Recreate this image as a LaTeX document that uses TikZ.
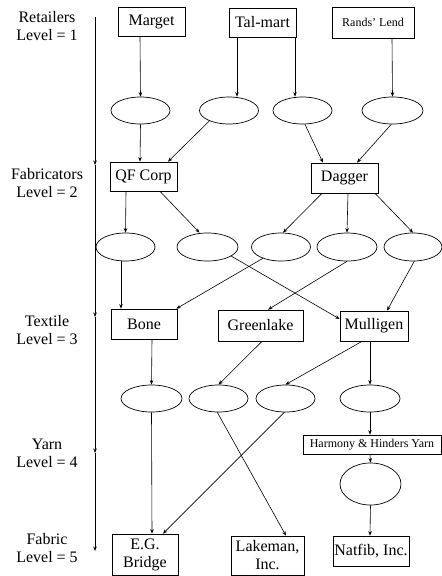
\documentclass[tikz,border=0pt]{standalone}
\usepackage{fontspec}
\setmainfont{Liberation Serif}
\usetikzlibrary{arrows.meta,shapes.geometric}
\begin{document}
\begin{tikzpicture}[x=1pt,y=-1pt,
  box/.style={draw,line width=0.7pt,inner sep=0pt,align=center,font=\fontsize{16}{18}\selectfont},
  smallbox/.style={box,font=\fontsize{12}{14}\selectfont},
  oval/.style={draw,ellipse,line width=0.7pt,inner sep=0pt,minimum width=59pt,minimum height=27pt},
  lvl/.style={align=center,font=\fontsize{16}{18}\selectfont},
  arr/.style={line width=0.6pt,-{Stealth[length=4.5pt,width=3.5pt]}}]
\useasboundingbox (0,0) rectangle (442,576);
% level labels
\node[lvl] (l1) at (47,26.5) {Retailers\\Level = 1};
\node[lvl] (l2) at (47,183) {Fabricators\\Level = 2};
\node[lvl] (l3) at (47,330) {Textile\\Level = 3};
\node[lvl] (l4) at (47,453) {Yarn\\Level = 4};
\node[lvl] (l5) at (47,548) {Fabric\\Level = 5};
\coordinate (L0) at (95,17);
\coordinate (L1) at (95,165);
\coordinate (L2) at (95,317);
\coordinate (L3) at (95,453);
\coordinate (L4) at (95,551);
\draw[arr] (L0) -- (L1);
\draw[arr] (L1) -- (L2);
\draw[arr] (L2) -- (L3);
\draw[arr] (L3) -- (L4);
% boxes
\node[box,minimum width=67pt,minimum height=29pt] (marget) at (151.5,21.5) {Marget};
\node[box,minimum width=67pt,minimum height=29pt] (talmart) at (262.5,22.5) {Tal-mart};
\node[smallbox,minimum width=82pt,minimum height=31pt] (rands) at (373,22.5) {Rands' Lend};
\node[box,minimum width=67pt,minimum height=29pt] (qf) at (143.5,176.5) {QF Corp};
\node[box,minimum width=67pt,minimum height=30pt] (dagger) at (344.5,178) {Dagger};
\node[box,minimum width=66pt,minimum height=30pt] (bone) at (144,324) {Bone};
\node[box,minimum width=85pt,minimum height=31pt] (greenlake) at (260.5,325.5) {Greenlake};
\node[box,minimum width=68pt,minimum height=30pt] (mulligen) at (374,326) {Mulligen};
\node[smallbox,minimum width=138pt,minimum height=19pt] (harmony) at (372,444.5) {Harmony \& Hinders Yarn};
\node[box,minimum width=66pt,minimum height=41pt] (egbridge) at (145,554.5) {E.G.\\Bridge};
\node[box,minimum width=73pt,minimum height=39pt] (lakeman) at (267.5,555.5) {Lakeman,\\Inc.};
\node[box,minimum width=76pt,minimum height=30pt] (natfib) at (371,551) {Natfib, Inc.};
% ellipses
\node[oval] (a1) at (140.5,110.5) {};
\node[oval] (a2) at (229,110.5) {};
\node[oval] (a3) at (302.5,110.5) {};
\node[oval,minimum width=61pt] (a4) at (392.5,110.5) {};
\node[oval,minimum height=28pt] (b1) at (125.5,247) {};
\node[oval,minimum width=61pt,minimum height=28pt] (b2) at (207.5,247) {};
\node[oval,minimum height=28pt] (b3) at (281,247) {};
\node[oval,minimum width=60pt,minimum height=28pt] (b4) at (347,247) {};
\node[oval,minimum width=58pt,minimum height=28pt] (b5) at (413,247) {};
\node[oval,minimum width=61pt] (c1) at (151.5,398.5) {};
\node[oval] (c2) at (218.5,398.5) {};
\node[oval] (c3) at (285.5,398.5) {};
\node[oval,minimum width=60pt] (c4) at (370,398.5) {};
\node[oval,minimum width=61pt,minimum height=42pt] (g) at (370.5,484) {};
% connectors
\draw[arr] ([xshift=-11.5pt]marget.south) -- (a1.north);
\draw[arr] ([xshift=-25.5pt]talmart.south) -- ([xshift=8pt]a2.north);
\draw[arr] ([xshift=32.5pt]talmart.south) -- ([xshift=-7.5pt]a3.north);
\draw[arr] ([xshift=19pt]rands.south) -- (a4.north);
\draw[arr] (a1.south) -- ([xshift=-3.5pt]qf.north);
\draw[arr] (a2.208) -- ([xshift=24.5pt]qf.north);
\draw[arr] (a3.-80) -- ([xshift=-21.5pt]dagger.north);
\draw[arr] (a4.-95) -- ([xshift=12.5pt]dagger.north);
\draw[arr] ([xshift=-17.5pt]qf.south) -- (b1.north);
\draw[arr] ([xshift=16.5pt]qf.south) -- ([xshift=-8pt]b2.north);
\draw[arr] ([xshift=-22.5pt]dagger.south) -- ([xshift=2pt]b3.north);
\draw[arr] ([xshift=3.5pt]dagger.south) -- (b4.north);
\draw[arr] ([xshift=30.5pt]dagger.south) -- (b5.north);
\draw[arr] ([xshift=-4.5pt]b1.south) -- ([xshift=-23pt]bone.north);
\draw[arr] (b3.212) -- ([xshift=-1pt]bone.north east);
\draw[arr] (b2.-21) -- ([yshift=7pt]mulligen.west);
\draw[arr] (b4.south) -- ([xshift=7.5pt]greenlake.north);
\draw[arr] (b5.-85) -- ([xshift=13pt]mulligen.north);
\draw[arr] ([xshift=8pt]bone.south) -- (c1.north);
\draw[arr] ([xshift=1.5pt]greenlake.south) -- (c2.north);
\draw[arr] ([xshift=-12pt]mulligen.south) -- (c3.north);
\draw[arr] ([xshift=-4pt]mulligen.south) -- (c4.north);
\draw[arr] (c4.south) -- ([xshift=-2pt]harmony.north);
\draw[arr] ([xshift=-2pt]harmony.south) -- (g.north);
\draw[arr] (g.south) -- ([xshift=-1pt]natfib.north);
\draw[arr] (c1.south) -- ([xshift=7pt]egbridge.north);
\draw[arr] (c3.-95) -- ([xshift=18pt]egbridge.north);
\draw[arr] (c2.-95) -- ([xshift=18.5pt]lakeman.north);
\end{tikzpicture}
\end{document}
